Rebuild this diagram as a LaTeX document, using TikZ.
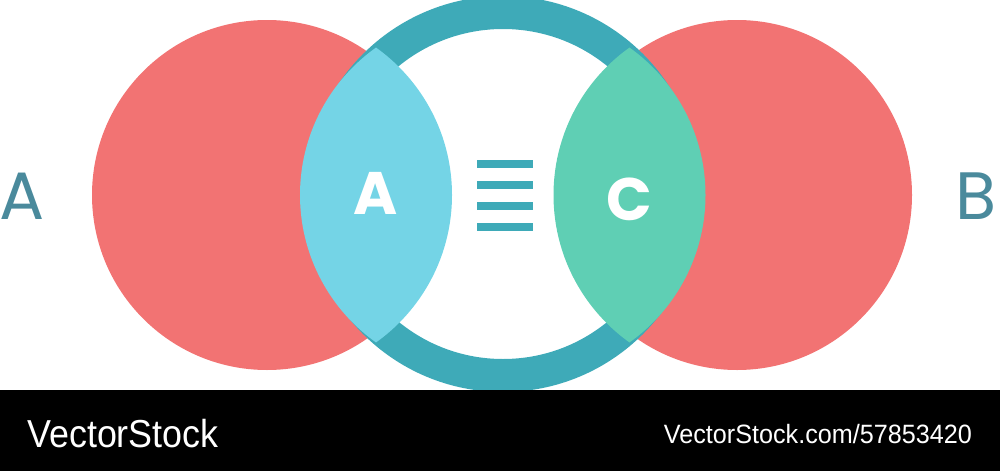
\documentclass[tikz,border=0pt]{standalone}
\usepackage{fontspec}
\setmainfont{Liberation Sans}
\newfontfamily\letterfont{Poppins}

\definecolor{redc}{HTML}{F27373}
\definecolor{ringc}{HTML}{3EAAB8}
\definecolor{lensa}{HTML}{74D4E6}
\definecolor{lensc}{HTML}{5FCFB4}
\definecolor{letterc}{HTML}{4A8A9C}

\begin{document}
\begin{tikzpicture}[x=1pt,y=-1pt,
    disc/.style={circle,inner sep=0pt,outer sep=0pt,minimum size=#1},
    sidelabel/.style={inner sep=0pt,text=letterc,font=\letterfont\fontsize{67}{67}\selectfont},
    innerlabel/.style={inner sep=0pt,text=white,font=\letterfont\bfseries\fontsize{60}{60}\selectfont},
    barline/.style={fill=ringc,inner sep=0pt,minimum width=56pt,minimum height=8pt}
    ]
    \useasboundingbox (0,0) rectangle (1000,471);

    \node(redL) [disc=350pt,fill=redc] at (267,195) {};
    \node(redR) [disc=350pt,fill=redc] at (737,195) {};
    \node(ring) [disc=363pt,draw=ringc,line width=33pt] at (503,194) {};

    % lenses
    \begin{scope}
      \clip (271,195) circle[radius=181];
      \fill[lensa] (481,195) circle[radius=181];
    \end{scope}
    \begin{scope}
      \clip (524.5,195) circle[radius=181];
      \fill[lensc] (734.5,195) circle[radius=181];
    \end{scope}

    \node(labA) [sidelabel,anchor=base] at (22,219) {A};
    \node(labB) [sidelabel,anchor=base east] at (997,219) {B};
    \node(inA) [innerlabel,anchor=base] at (376,214) {A};
    \node(inC) [innerlabel,anchor=base] at (629,220) {C};

    \foreach \i/\y in {1/164,2/185,3/205.5,4/226.5} {
      \node(bar\i) [barline] at (505,\y) {};
    }

    % footer
    \node(footer) [fill=black,inner sep=0pt,outer sep=0pt,minimum width=1000pt,minimum height=81pt,anchor=north west] at (0,390) {};
    \node(brand) [anchor=base west,inner sep=0pt,text=white,font=\fontsize{39}{39}\selectfont,xscale=0.92] at (27,447) {VectorStock};
    \node(imgid) [anchor=base east,inner sep=0pt,text=white,font=\fontsize{26.5}{26.5}\selectfont,xscale=0.95] at (972,443) {VectorStock.com/57853420};
\end{tikzpicture}
\end{document}
